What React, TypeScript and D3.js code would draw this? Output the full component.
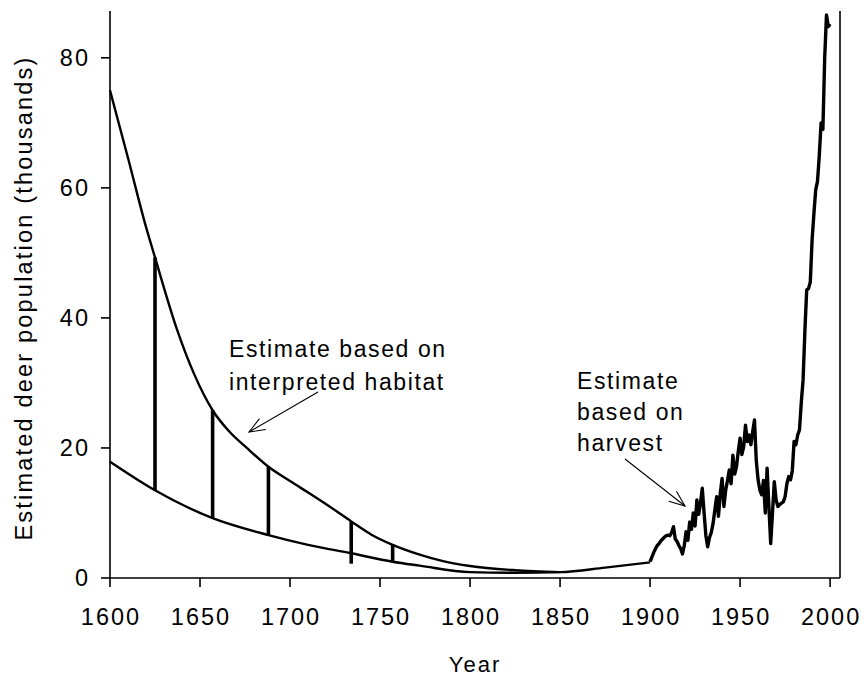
import * as d3 from "d3";

const width = 864;
const height = 679;
const margin = { top: 11, right: 24, bottom: 101, left: 110 };

// habitat-based estimate: upper and lower bounds
const upperYears = [1600, 1610, 1620, 1625, 1637, 1647, 1657, 1666, 1676, 1688, 1700, 1712, 1723, 1734, 1745, 1757, 1772, 1785, 1800, 1825, 1850];
const upperValues = [75, 64.6, 54, 49.3, 38.4, 31.2, 25.8, 22.6, 20, 17.1, 14.9, 12.8, 10.8, 8.7, 6.7, 5.1, 3.6, 2.6, 1.85, 1.2, 0.9];
const lowerYears = [1600, 1625, 1657, 1688, 1710, 1734, 1757, 1772, 1800, 1825, 1850, 1875, 1900];
const lowerValues = [17.9, 13.5, 9.2, 6.6, 5.1, 3.8, 2.5, 1.9, 0.9, 0.8, 0.9, 1.6, 2.4];

// range bars
const barYears = [1625, 1657, 1688, 1734, 1757];
const barLows = [13.5, 9.2, 6.6, 2.2, 2.5];
const barHighs = [49.3, 25.8, 17.1, 8.7, 5.2];

// harvest-based estimate, 1900-2000
const harvestYears = d3.range(1900, 2001);
const harvestValues = [
  2.5, 3.2, 3.9, 4.5, 5.0, 5.3, 5.7, 6.0, 6.3, 6.5,
  6.6, 6.5, 7.0, 7.9, 6.0, 5.6, 5.0, 4.5, 3.7, 5.0,
  7.1, 5.8, 8.6, 7.5, 10.0, 8.0, 12.0, 9.8, 11.5, 13.8,
  10.0, 6.5, 4.8, 6.2, 7.0, 8.4, 10.5, 12.5, 9.5, 13.0,
  15.3, 11.0, 13.5, 15.0, 16.6, 14.5, 18.9, 16.0, 17.1, 19.5,
  21.5, 19.0, 20.2, 23.5, 21.0, 22.0, 20.5, 22.5, 24.3, 18.0,
  15.1, 13.5, 12.8, 15.0, 10.0, 16.9, 11.0, 5.3, 10.0, 14.8,
  12.0, 11.0, 11.3, 11.5, 11.7, 12.5, 14.5, 15.6, 15.1, 16.5,
  21.0, 20.5, 22.0, 22.8, 27.0, 30.5, 38.0, 44.3, 44.5, 45.5,
  52.0, 56.0, 59.7, 61.0, 65.0, 70.0, 69.0, 80.0, 86.6, 84.8,
  85.2,
];

const xTicks = [1600, 1650, 1700, 1750, 1800, 1850, 1900, 1950, 2000];
const yTicks = [0, 20, 40, 60, 80];

const font = "Arial, 'Liberation Sans', Helvetica, sans-serif";

const x = d3.scaleLinear().domain([1600, 2005.5]).range([margin.left, width - margin.right]);
const y = d3.scaleLinear().domain([0, 87.2]).range([height - margin.bottom, margin.top]);

const habitatLine = d3
  .line<[number, number]>()
  .x((d) => x(d[0]))
  .y((d) => y(d[1]))
  .curve(d3.curveMonotoneX);

const harvestLine = d3
  .line<[number, number]>()
  .x((d) => x(d[0]))
  .y((d) => y(d[1]));

function Arrow({ x1, y1, x2, y2 }: { x1: number; y1: number; x2: number; y2: number }) {
  const a = Math.atan2(y2 - y1, x2 - x1);
  const len = 17;
  const spread = 0.38;
  const w1 = [x2 - len * Math.cos(a - spread), y2 - len * Math.sin(a - spread)];
  const w2 = [x2 - len * Math.cos(a + spread), y2 - len * Math.sin(a + spread)];
  return (
    <g stroke="#000" strokeWidth={1.1} fill="none">
      <line x1={x1} y1={y1} x2={x2} y2={y2} />
      <path d={`M${w1[0]},${w1[1]}L${x2},${y2}L${w2[0]},${w2[1]}`} />
    </g>
  );
}

export default function App() {
  const y0 = y(0);
  const upper = upperYears.map((d, i) => [d, upperValues[i]] as [number, number]);
  const lower = lowerYears.map((d, i) => [d, lowerValues[i]] as [number, number]);
  const harvest = harvestYears.map((d, i) => [d, harvestValues[i]] as [number, number]);

  return (
    <svg
      width={width}
      height={height}
      style={{ position: "absolute", left: 0, top: 0, background: "#fff" }}
      fontFamily={font}
    >
      {/* axes */}
      <g stroke="#000" strokeWidth={1.6} fill="none">
        <line x1={x.range()[0]} y1={y.range()[1]} x2={x.range()[0]} y2={y0} />
        <line x1={x.range()[0]} y1={y0} x2={x.range()[1]} y2={y0} />
        <line x1={x.range()[1]} y1={y.range()[1]} x2={x.range()[1]} y2={y0} />
        {yTicks.map((t) => (
          <line key={t} x1={x.range()[0] - 9} x2={x.range()[0]} y1={y(t)} y2={y(t)} />
        ))}
        {xTicks.map((t) => (
          <line key={t} x1={x(t)} x2={x(t)} y1={y0} y2={y0 + 9} />
        ))}
      </g>
      <g fontSize={23.5} letterSpacing={2} fill="#000">
        {yTicks.map((t) => (
          <text key={t} x={x.range()[0] - 20} y={y(t) + 8} textAnchor="end">
            {t}
          </text>
        ))}
        {xTicks.map((t) => (
          <text key={t} x={x(t) + 1} y={y0 + 47} textAnchor="middle">
            {t}
          </text>
        ))}
      </g>
      <text x={475} y={672} fontSize={22} letterSpacing={2} textAnchor="middle">
        Year
      </text>
      <text
        transform={`translate(32,${298}) rotate(-90)`}
        fontSize={23.5}
        letterSpacing={2.2}
        textAnchor="middle"
      >
        Estimated deer population (thousands)
      </text>

      {/* habitat estimate */}
      <path d={habitatLine(upper) ?? ""} fill="none" stroke="#000" strokeWidth={2.4} />
      <path d={habitatLine(lower) ?? ""} fill="none" stroke="#000" strokeWidth={2.4} />
      <g stroke="#000" strokeWidth={3.6}>
        {barYears.map((yr, i) => (
          <line key={yr} x1={x(yr)} x2={x(yr)} y1={y(barLows[i])} y2={y(barHighs[i])} />
        ))}
      </g>

      {/* harvest estimate */}
      <path
        d={harvestLine(harvest) ?? ""}
        fill="none"
        stroke="#000"
        strokeWidth={3.4}
        strokeLinejoin="round"
      />

      {/* annotations */}
      <g fontSize={23} letterSpacing={1.6} fill="#000">
        <text x={229} y={357}>Estimate based on</text>
        <text x={229} y={390}>interpreted habitat</text>
        <text x={577} y={389}>Estimate</text>
        <text x={577} y={420}>based on</text>
        <text x={577} y={451}>harvest</text>
      </g>
      <Arrow x1={318} y1={392} x2={249} y2={432} />
      <Arrow x1={625} y1={459} x2={685} y2={506} />
    </svg>
  );
}
